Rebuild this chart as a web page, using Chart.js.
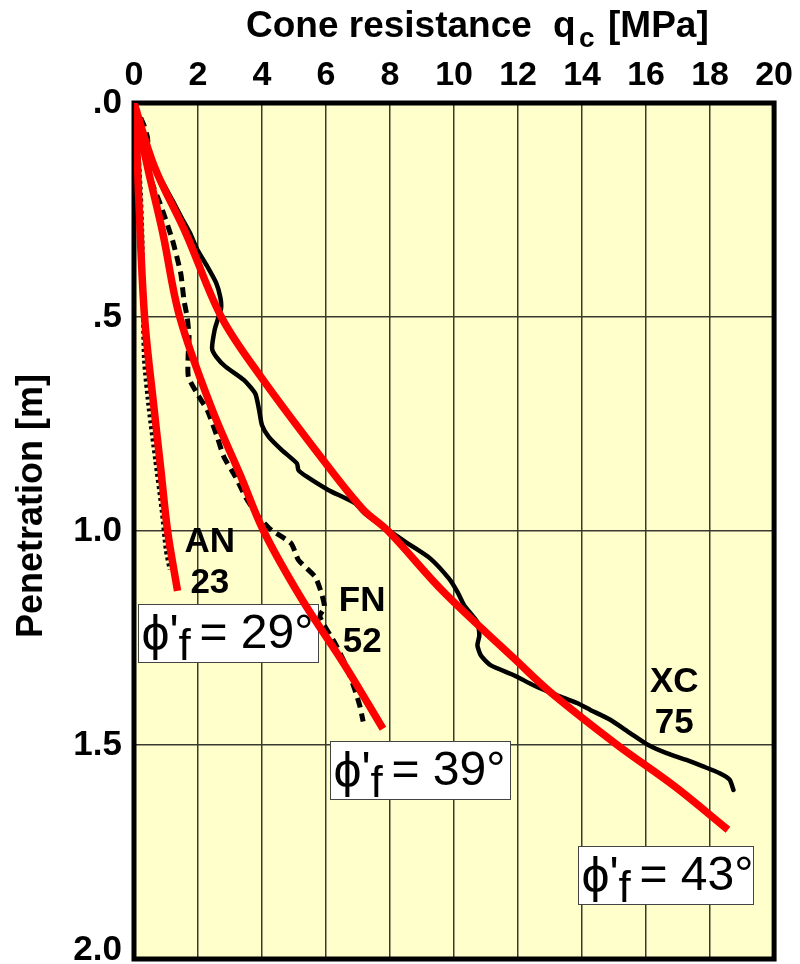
<!DOCTYPE html>
<html>
<head>
<meta charset="utf-8">
<title>Cone resistance vs penetration</title>
<script src="https://cdn.jsdelivr.net/npm/chart.js@4.4.1/dist/chart.umd.min.js"></script>
<style>
  html, body { margin: 0; padding: 0; background: #fff; }
  #wrap { width: 800px; height: 964px; position: relative; }
</style>
</head>
<body>
<div id="wrap"><canvas id="chartCPT"></canvas></div>
<script>
// --- Axes ---
const depthTicks = [0, 0.5, 1.0, 1.5, 2.0];
const depthTickLabels = [".0", ".5", "1.0", "1.5", "2.0"];

// --- Measured profiles (depth m, qc MPa) ---
const anDepth = [0, 0.1, 0.2, 0.3, 0.45, 0.6, 0.716, 0.834, 0.951, 1.044, 1.09];
const anQc = [0, 0.12, 0.2, 0.25, 0.28, 0.32, 0.47, 0.67, 0.87, 1.0, 1.12];

const fnDepth = [0, 0.05, 0.08, 0.12, 0.172, 0.242, 0.32, 0.398, 0.46, 0.5, 0.546, 0.593, 0.64, 0.68, 0.718, 0.78, 0.827, 0.873, 0.92, 0.967, 0.998, 1.029, 1.068, 1.107, 1.146, 1.177, 1.2, 1.262, 1.317, 1.371, 1.41, 1.445];
const fnQc = [0, 0.3, 0.42, 0.45, 0.5, 0.85, 1.2, 1.46, 1.56, 1.66, 1.72, 1.69, 1.7, 1.98, 2.29, 2.6, 2.81, 3.17, 3.48, 3.89, 4.3, 4.91, 5.14, 5.66, 5.86, 5.95, 5.81, 6.28, 6.64, 6.9, 7.06, 7.16];

const xcDepth = [0, 0.03, 0.08, 0.13, 0.165, 0.2, 0.23, 0.27, 0.304, 0.343, 0.382, 0.421, 0.455, 0.48, 0.505, 0.53, 0.574, 0.593, 0.616, 0.647, 0.679, 0.718, 0.753, 0.78, 0.811, 0.842, 0.858, 0.873, 0.904, 0.935, 0.959, 0.998, 1.034, 1.065, 1.112, 1.143, 1.174, 1.213, 1.244, 1.267, 1.291, 1.314, 1.337, 1.361, 1.384, 1.402, 1.418, 1.441, 1.472, 1.5, 1.519, 1.535, 1.55, 1.566, 1.581, 1.605];
const xcQc = [0, 0.15, 0.35, 0.55, 0.75, 1.0, 1.22, 1.5, 1.75, 1.98, 2.29, 2.57, 2.7, 2.72, 2.62, 2.52, 2.44, 2.57, 2.86, 3.43, 3.79, 3.91, 4.0, 4.21, 4.62, 5.09, 5.14, 5.4, 6.07, 6.9, 7.21, 7.94, 8.66, 9.27, 9.85, 10.11, 10.32, 10.73, 10.79, 10.73, 10.84, 11.15, 11.87, 12.5, 13.22, 13.84, 14.26, 14.88, 15.5, 16.07, 16.64, 17.26, 17.78, 18.3, 18.61, 18.73];

// --- Predicted curves for each friction angle ---
const phi29Depth = [0, 0.11, 0.227, 0.5, 0.716, 0.85, 1.0, 1.14];
const phi29Qc = [0, 0.09, 0.15, 0.33, 0.63, 0.83, 1.05, 1.36];

const phi39Depth = [0, 0.149, 0.304, 0.5, 0.716, 0.871, 1.0, 1.159, 1.314, 1.462];
const phi39Qc = [0, 0.42, 0.9, 1.43, 2.44, 3.33, 4.05, 5.24, 6.59, 7.78];

const phi43Depth = [0, 0.149, 0.304, 0.5, 0.638, 0.84, 0.949, 1.0, 1.143, 1.298, 1.376, 1.5, 1.597, 1.698];
const phi43Qc = [0, 0.64, 1.62, 2.73, 3.95, 5.97, 7.15, 7.94, 9.68, 11.88, 13.0, 15.1, 16.9, 18.56];

// --- Labels ---
const testNames = ["AN", "FN", "XC"];
const testNumbers = ["23", "52", "75"];
const phiAngles = [29, 39, 43];

// where the text sits (qc, depth of first baseline)
const testLabelAt = [
  { qc: 2.37, z: 1.048 },
  { qc: 7.13, z: 1.188 },
  { qc: 16.88, z: 1.375 },
];
// top-left corner of the phi boxes (qc, depth) and box width in px
const phiBoxAt = [
  { qc: 0.11, z: 1.17, w: 180 },
  { qc: 6.12, z: 1.49, w: 180 },
  { qc: 13.86, z: 1.735, w: 175 },
];

const FONT = '"Liberation Sans", Arial, Helvetica, sans-serif';
const PLOT_BG = "#ffffcc";

const toPoints = (depth, qc) => depth.map((z, i) => ({ x: qc[i], y: z }));

function makeChart(ctx, type, data, options, plugins) {
  return new Chart(ctx, { type, data, options, plugins });
}

// background, frame, annotations and hand-set titles
const cptDecor = {
  id: "cptDecor",
  beforeDraw(chart) {
    const { ctx, chartArea: a } = chart;
    ctx.save();
    ctx.fillStyle = PLOT_BG;
    ctx.fillRect(a.left, a.top, a.right - a.left, a.bottom - a.top);
    ctx.restore();
  },
  beforeDatasetsDraw(chart) {
    const { ctx, chartArea: a, scales } = chart;
    const xs = scales.x, ys = scales.y;
    ctx.save();

    // frame
    ctx.strokeStyle = "#000";
    ctx.lineWidth = 5;
    ctx.strokeRect(a.left, a.top, a.right - a.left, a.bottom - a.top);

    // test names
    ctx.fillStyle = "#000";
    ctx.textAlign = "center";
    ctx.textBaseline = "alphabetic";
    ctx.font = "bold 35px " + FONT;
    testNames.forEach((name, i) => {
      const px = xs.getPixelForValue(testLabelAt[i].qc);
      const py = ys.getPixelForValue(testLabelAt[i].z);
      ctx.fillText(name, px, py);
      ctx.fillText(testNumbers[i], px, py + 41);
    });

    // phi'f boxes
    phiAngles.forEach((ang, i) => {
      const bx = Math.round(xs.getPixelForValue(phiBoxAt[i].qc)) + 0.5;
      const by = Math.round(ys.getPixelForValue(phiBoxAt[i].z)) + 0.5;
      const bw = phiBoxAt[i].w, bh = 58;
      ctx.fillStyle = "#fff";
      ctx.fillRect(bx, by, bw, bh);
      ctx.strokeStyle = "#444";
      ctx.lineWidth = 1;
      ctx.strokeRect(bx, by, bw, bh);

      const base = by + 43;
      ctx.fillStyle = "#000";
      ctx.textAlign = "left";
      ctx.font = "50px " + FONT;
      ctx.fillText("\u03D5", bx + 3, base + 2);
      ctx.font = "48px " + FONT;
      ctx.fillText("'", bx + 31, base);
      ctx.font = "44px " + FONT;
      ctx.fillText("f", bx + 40, base + 12);
      ctx.font = "48px " + FONT;
      ctx.fillText("= " + ang + "\u00B0", bx + 61, base);
    });
    ctx.restore();
  },
  afterDraw(chart) {
    const { ctx, chartArea: a, scales } = chart;
    const ys = scales.y;
    ctx.save();
    ctx.fillStyle = "#000";

    // depth tick labels
    ctx.font = "bold 35px " + FONT;
    ctx.textAlign = "right";
    ctx.textBaseline = "middle";
    depthTicks.forEach((v, i) => {
      const py = Math.min(ys.getPixelForValue(v), chart.height - 14);
      ctx.fillText(depthTickLabels[i], a.left - 12, py);
    });

    // top title with subscript c
    ctx.textAlign = "left";
    ctx.textBaseline = "alphabetic";
    ctx.font = "bold 37px " + FONT;
    ctx.fillText("Cone resistance", 246, 37);
    ctx.fillText("q", 553, 37);
    ctx.font = "bold 28px " + FONT;
    ctx.fillText("c", 579, 47);
    ctx.font = "bold 37px " + FONT;
    ctx.fillText("[MPa]", 608, 37);

    // left title
    ctx.translate(42, 506);
    ctx.rotate(-Math.PI / 2);
    ctx.textAlign = "center";
    ctx.font = "bold 36px " + FONT;
    ctx.fillText("Penetration [m]", 0, 0);
    ctx.restore();
  },
};

const redLine = (depth, qc) => ({
  data: toPoints(depth, qc),
  showLine: true,
  borderColor: "#ff0000",
  borderWidth: 7.5,
  pointRadius: 0,
  tension: 0.35,
  order: 0,
});

const canvas = document.getElementById("chartCPT");
makeChart(
  canvas,
  "scatter",
  {
    datasets: [
      redLine(phi29Depth, phi29Qc),
      redLine(phi39Depth, phi39Qc),
      redLine(phi43Depth, phi43Qc),
      {
        label: "AN",
        data: toPoints(anDepth, anQc),
        showLine: true,
        borderColor: "#000",
        borderWidth: 4.5,
        borderDash: [3, 3],
        pointRadius: 0,
        tension: 0.2,
        order: 1,
      },
      {
        label: "FN",
        data: toPoints(fnDepth, fnQc),
        showLine: true,
        borderColor: "#000",
        borderWidth: 5,
        borderDash: [10, 6],
        pointRadius: 0,
        tension: 0.2,
        order: 1,
      },
      {
        label: "XC",
        data: toPoints(xcDepth, xcQc),
        showLine: true,
        borderColor: "#000",
        borderWidth: 4.5,
        borderJoinStyle: "round",
        borderCapStyle: "round",
        pointRadius: 0,
        tension: 0.2,
        order: 1,
      },
    ],
  },
  {
    responsive: true,
    maintainAspectRatio: false,
    animation: false,
    layout: { padding: { top: 0, left: 0, right: 22, bottom: 5 } },
    plugins: { legend: { display: false }, tooltip: { enabled: false } },
    scales: {
      x: {
        type: "linear",
        position: "top",
        min: 0,
        max: 20,
        ticks: {
          stepSize: 2,
          color: "#000",
          padding: 7,
          font: { family: FONT, size: 34, weight: "bold" },
        },
        grid: { color: "#3a3a30", lineWidth: 1.5, drawTicks: false },
        border: { display: false },
        afterFit: (s) => { s.height = 103; },
      },
      y: {
        type: "linear",
        reverse: true,
        min: 0,
        max: 2,
        ticks: { stepSize: 0.5, display: false },
        grid: { color: "#3a3a30", lineWidth: 1.5, drawTicks: false },
        border: { display: false },
        afterFit: (s) => { s.width = 134; },
      },
    },
  },
  [cptDecor]
);
</script>
</body>
</html>
